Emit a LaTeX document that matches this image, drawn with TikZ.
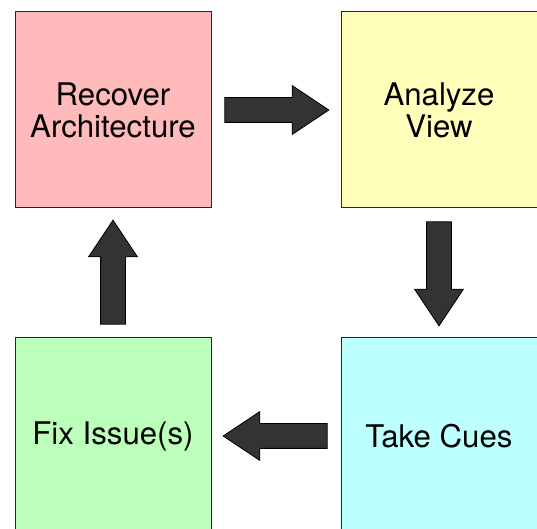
\documentclass[tikz,border=0pt]{standalone}
\usepackage{fontspec}
\setmainfont{TeX Gyre Heros}
\usetikzlibrary{shapes.arrows}

\definecolor{recpink}{HTML}{FFBBBB}
\definecolor{viewyellow}{HTML}{FFFFBB}
\definecolor{cuecyan}{HTML}{BBFFFF}
\definecolor{fixgreen}{HTML}{BBFFBB}
\definecolor{arrowgray}{HTML}{333333}

\tikzset{
  stage/.style={draw=black!85, line width=0.5pt, minimum size=98pt, inner sep=0pt,
    align=center, font=\fontsize{15.6}{16}\selectfont},
  bigarrow/.style={single arrow, draw=black, fill=arrowgray, line width=0.4pt,
    inner xsep=0pt, inner ysep=6pt, minimum height=52pt, minimum width=24pt,
    single arrow head extend=6pt, single arrow tip angle=67.4,
    sloped, allow upside down, anchor=tail, pos=0.1}
}

\begin{document}
\begin{tikzpicture}
\useasboundingbox (0,0) rectangle (268.5pt,264.5pt);

% the four steps
\node[stage, fill=recpink] (recover) at (56.5pt,209.5pt) {Recover\\Architecture};
\node[stage, fill=viewyellow] (analyze) at (219.5pt,209.5pt) {Analyze\\View};
\node[stage, fill=cuecyan] (cues) at (219.5pt,46.5pt) {Take Cues};
\node[stage, fill=fixgreen] (fix) at (56.5pt,46.5pt) {Fix Issue(s)};

% the loop
\path (recover) -- node[bigarrow] (step1) {} (analyze);
\path (analyze) -- node[bigarrow] (step2) {} (cues);
\path (cues) -- node[bigarrow] (step3) {} (fix);
\path (fix) -- node[bigarrow] (step4) {} (recover);
\end{tikzpicture}
\end{document}
